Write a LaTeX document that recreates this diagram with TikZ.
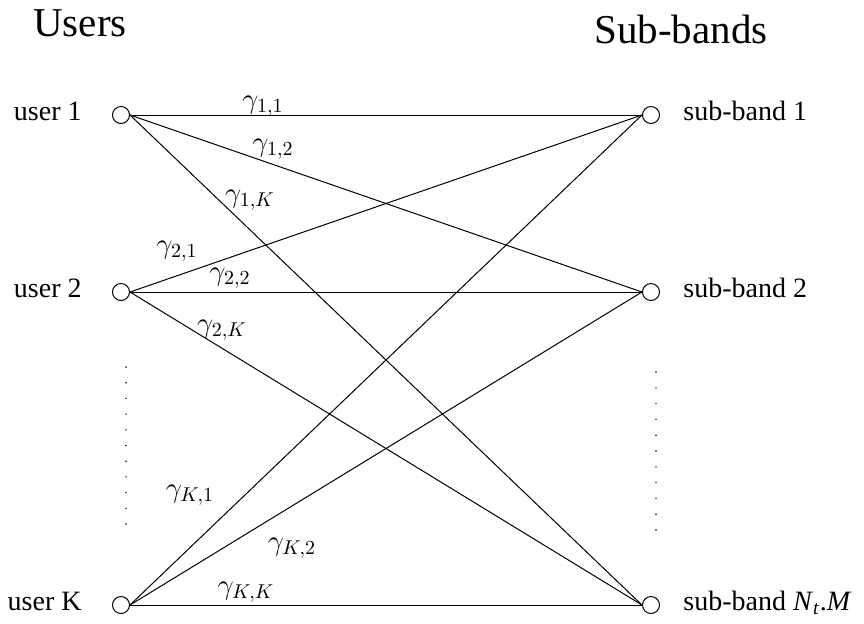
\documentclass[tikz,border=0pt]{standalone}
\usepackage{fontspec}
\setmainfont{Liberation Serif}
\begin{document}
\begin{tikzpicture}[x=0.5pt,y=-0.5pt,
    port/.style={circle,draw,line width=0.5pt,inner sep=0pt,minimum size=8.5pt},
    lbl/.style={font=\fontsize{14}{16}\selectfont,inner sep=0pt},
    gam/.style={font=\fontsize{14}{16}\selectfont,inner sep=0pt},
    head/.style={font=\fontsize{20.5}{24}\selectfont,inner sep=0pt,anchor=base},
    link/.style={line width=0.5pt}]
    \useasboundingbox (0,0) rectangle (864,623);

    \node[head] (users) at (80,36) {Users};
    \node[head] (bands) at (681,43) {Sub-bands};

    % users on the left, sub-bands on the right
    \node[port] (u1) at (121,115) {};
    \node[port] (u2) at (121,292) {};
    \node[port] (uK) at (121,605) {};
    \node[port] (s1) at (651,115) {};
    \node[port] (s2) at (651,292) {};
    \node[port] (sK) at (651,605) {};

    \node[lbl,anchor=base east] (tu1) at (82,120) {user 1};
    \node[lbl,anchor=base east] (tu2) at (82,297) {user 2};
    \node[lbl,anchor=base east] (tuK) at (82,610) {user K};
    \node[lbl,anchor=base west] (ts1) at (683,120) {sub-band 1};
    \node[lbl,anchor=base west] (ts2) at (683,297) {sub-band 2};
    \node[lbl,anchor=base west] (tsK) at (683,610) {sub-band \textit{N}\textsubscript{\textit{t}}.\textit{M}};

    \foreach \u in {1,2,K}
        \foreach \s in {1,2,K}
            \draw[link] (u\u.east) -- (s\s.west);

    \foreach \i in {0,...,10} {
        \fill (126,367+15.7*\i) circle (0.4pt);
        \fill (656,372+15.8*\i) circle (0.4pt);
    }

    \node[gam] (g11) at (263,106) {$\gamma_{1,1}$};
    \node[gam] (g12) at (273,149) {$\gamma_{1,2}$};
    \node[gam] (g1K) at (250,200) {$\gamma_{1,K}$};
    \node[gam] (g21) at (177,251) {$\gamma_{2,1}$};
    \node[gam] (g22) at (230,278) {$\gamma_{2,2}$};
    \node[gam] (g2K) at (222,330) {$\gamma_{2,K}$};
    \node[gam] (gK1) at (190,495) {$\gamma_{K,1}$};
    \node[gam] (gK2) at (292,548) {$\gamma_{K,2}$};
    \node[gam] (gKK) at (246,592) {$\gamma_{K,K}$};
\end{tikzpicture}
\end{document}
